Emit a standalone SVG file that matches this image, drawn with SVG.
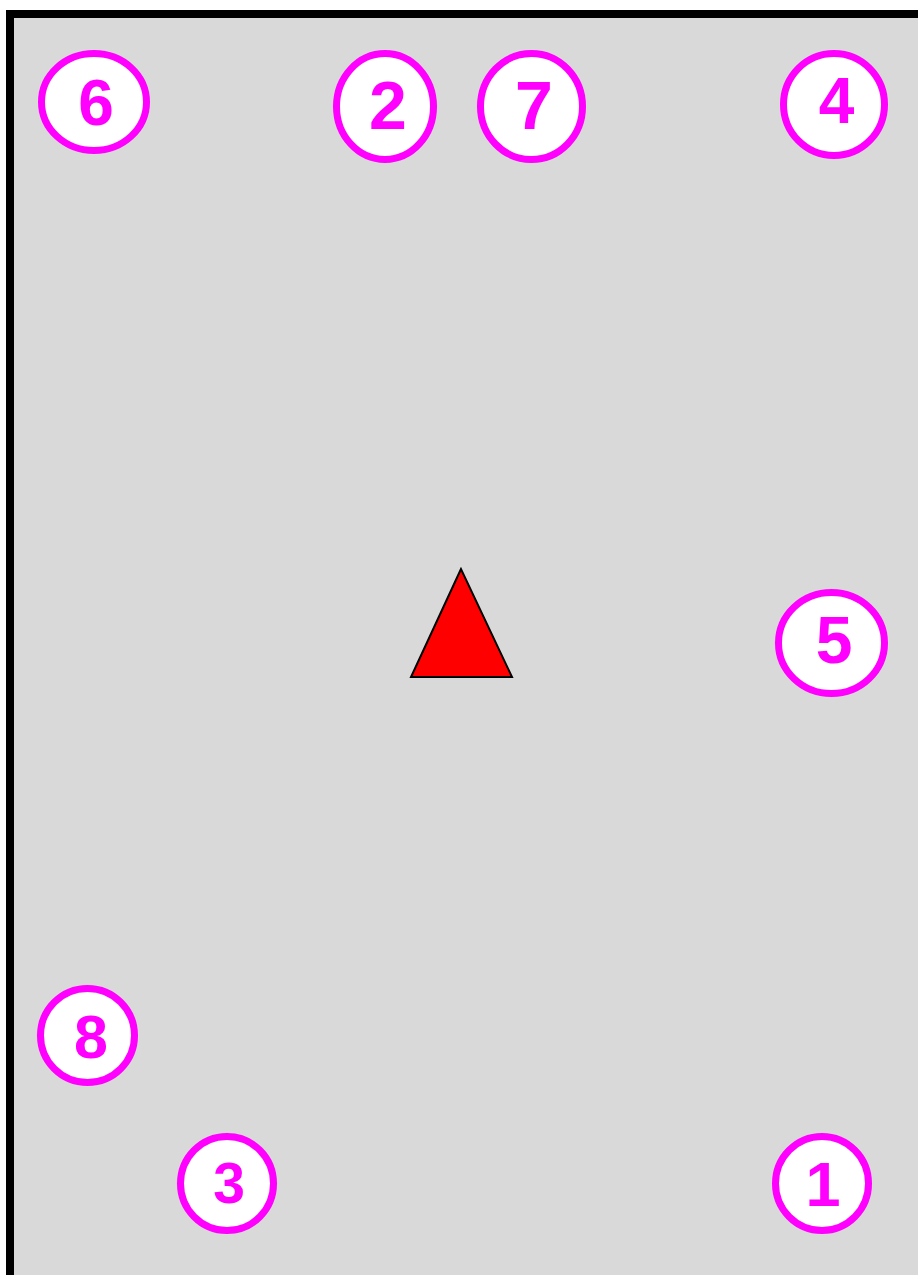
<svg xmlns="http://www.w3.org/2000/svg" width="918" height="1275" viewBox="0 0 918 1275">
<style>
.ring{fill:#ffffff;stroke:#ff00ff;stroke-width:7}
.num{fill:#ff00ff;font-family:"Liberation Sans",Arial,sans-serif;font-weight:bold;text-anchor:middle}
</style>
<rect x="10" y="14" width="930" height="1290" fill="#d9d9d9" stroke="#000000" stroke-width="8"/>
<g id="shape-triangle">
<polygon points="461,569 411,677 512,677" fill="#ff0000" stroke="#000000" stroke-width="2"/>
</g>
<g id="connectors"></g>
<g id="node-6"><ellipse class="ring" cx="94" cy="102" rx="52.5" ry="48.5"/><text class="num" x="96" y="125" font-size="64">6</text></g>
<g id="node-2"><ellipse class="ring" cx="385" cy="106.5" rx="48.5" ry="53"/><text class="num" x="388" y="129" font-size="68">2</text></g>
<g id="node-7"><ellipse class="ring" cx="531.5" cy="106.5" rx="51" ry="53"/><text class="num" x="534" y="129" font-size="68">7</text></g>
<g id="node-4"><ellipse class="ring" cx="834" cy="104.5" rx="50.5" ry="51"/><text class="num" x="836.5" y="123" font-size="64">4</text></g>
<g id="node-5"><ellipse class="ring" cx="831.5" cy="643" rx="53" ry="50.5"/><text class="num" x="834" y="663" font-size="66">5</text></g>
<g id="node-8"><ellipse class="ring" cx="87.5" cy="1035.5" rx="47" ry="47"/><text class="num" x="91" y="1058" font-size="61">8</text></g>
<g id="node-3"><ellipse class="ring" cx="227" cy="1183.5" rx="46.5" ry="47"/><text class="num" x="229" y="1203" font-size="57">3</text></g>
<g id="node-1"><ellipse class="ring" cx="822" cy="1183.5" rx="46.5" ry="47"/><text class="num" x="823" y="1206" font-size="63">1</text></g>
</svg>
